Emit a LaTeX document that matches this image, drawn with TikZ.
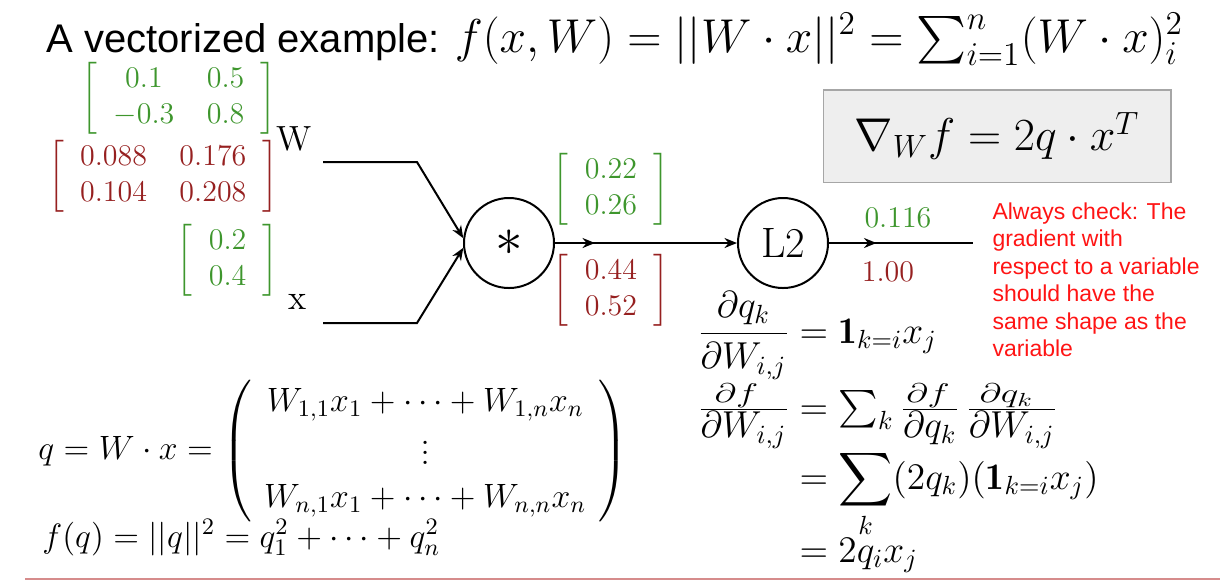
\documentclass[tikz,border=0pt]{standalone}
\usepackage{fix-cm}
\usepackage{amsmath,amssymb}
\usepackage{fontspec}
\newfontfamily\slidefont{Liberation Sans}
\usetikzlibrary{arrows.meta,positioning,decorations.markings}

\definecolor{fwdgreen}{RGB}{62,150,45}
\definecolor{bwdred}{RGB}{150,32,32}
\definecolor{notered}{RGB}{255,20,20}
\definecolor{gradbox}{RGB}{238,238,238}
\definecolor{rulered}{RGB}{214,140,140}

\newcommand{\fs}[2]{\fontsize{#1}{#2}\selectfont}
\newcommand{\valmat}[2]{{\arraycolsep=6.5pt$\left[\begin{array}{#1}#2\end{array}\right]$}}
% squat numerator, full-size denominator
\newcommand{\sqfrac}[2]{\frac{\scalebox{1}[0.72]{$\displaystyle#1$}}{\displaystyle#2}}

\tikzset{
  gate/.style={draw, circle, minimum size=36pt, inner sep=0pt, line width=0.8pt, font=\fs{17}{20}},
  wire/.style={line width=0.8pt, -{Stealth[length=5pt,width=4pt]}},
  midarrow/.style={postaction={decorate},
    decoration={markings, mark=at position #1 with {\arrow{Stealth[length=5pt,width=4pt]}}}},
  fwd/.style={text=fwdgreen, inner sep=0pt, font=\fs{12}{14.4}},
  bwd/.style={text=bwdred, inner sep=0pt, font=\fs{12}{14.4}},
  eqn/.style={inner sep=0pt, font=\fs{13.5}{16.2}},
  eqnr/.style={inner sep=0pt, font=\fs{15}{18}}
}

\begin{document}
\begin{tikzpicture}[x=0.4pt, y=-0.4pt]
\useasboundingbox (0,0) rectangle (1220,583);

% Title
\node[anchor=base west, inner sep=0pt] (title) at (46,52)
  {\slidefont\fs{16}{19}A vectorized example: \fs{19}{23}$f(x,W)=||W\cdot x||^2=\sum_{i=1}^n(W\cdot x)_i^2$};

% Inputs
\node[fwd, anchor=east] (Wval)  at (277,98)  {\valmat{cc}{0.1 & 0.5\\ -0.3 & 0.8}};
\node[bwd, anchor=east] (Wgrad) at (279,176) {\valmat{cc}{0.088 & 0.176\\ 0.104 & 0.208}};
\node[fwd, anchor=east] (xval)  at (279,260) {\valmat{c}{0.2\\ 0.4}};
\node[font=\fs{14}{16}] (Wlab) at (294,139) {W};
\node[font=\fs{14}{16}] (xlab) at (298,302) {x};

% Gates
\node[gate] (mul)  at (509,243) {\fs{22}{24}$\ast$};
\node[gate] (ltwo) at (783,243) {L2};

\coordinate (Win)    at (323,162);
\coordinate (Wbend)  at (417,162);
\coordinate (xin)    at (323,323);
\coordinate (xbend)  at (417,323);
\coordinate (outend) at (973,243);

% Wires
\draw[wire] (Win) -- (Wbend) -- (mul.174);
\draw[wire] (xin) -- (xbend) -- (mul.186);
\draw[wire, midarrow=16pt] (mul) -- (ltwo);
\draw[line width=0.8pt, midarrow=19pt] (ltwo) -- (outend);

% Values on the wires
\node[fwd] (qval)  at (611,189) {\valmat{c}{0.22\\ 0.26}};
\node[bwd] (qgrad) at (611,290) {\valmat{c}{0.44\\ 0.52}};
\node[fwd] (fval)  at (898,218) {$0.116$};
\node[bwd] (fgrad) at (888,272) {$1.00$};

% Result box
\node[draw=gray!70, fill=gradbox, line width=0.6pt, minimum width=139pt, minimum height=37pt,
      font=\fs{18.4}{22}] (result) at (997,136) {$\nabla_W f = 2q\cdot x^T$};

% Note
\node[anchor=north west, inner sep=0pt, align=left, text=notered, font=\slidefont\fs{9.2}{11}]
  (note) at (992,202) {Always check: The\\gradient with\\respect to a variable\\should have the\\same shape as the\\variable};

% Left equations
\node[eqn, anchor=west] (qdef) at (38,451)
  {$q=W\cdot x=\left(\begin{array}{c}W_{1,1}x_1+\cdots+W_{1,n}x_n\\[1pt] \vdots\\[1pt] W_{n,1}x_1+\cdots+W_{n,n}x_n\end{array}\right)$};
\node[eqn, anchor=base west] (fdef) at (42,547) {$f(q)=||q||^2=q_1^2+\cdots+q_n^2$};

% Right equations
\node[eqnr, anchor=base east] (dqdW)  at (790,343) {$\dfrac{\partial q_k}{\partial W_{i,j}}$};
\node[eqnr, anchor=base west] (dqdWr) at (799,343) {$=\mathbf{1}_{k=i}x_j$};
\node[eqnr, anchor=base east] (dfdW)  at (790,419) {$\sqfrac{\partial f}{\partial W_{i,j}}$};
\node[eqnr, anchor=base west] (chain) at (799,419)
  {$=\sum_k\sqfrac{\partial f}{\partial q_k}\,\sqfrac{\partial q_k}{\partial W_{i,j}}$};
\node[eqnr, anchor=base west] (sumk)  at (799,489) {$\displaystyle=\sum_k(2q_k)(\mathbf{1}_{k=i}x_j)$};
\node[eqnr, anchor=base west] (final) at (799,562) {$=2q_ix_j$};

% Bottom rule
\draw[rulered, line width=0.8pt] (25,579) -- (1220,579);
\end{tikzpicture}
\end{document}
